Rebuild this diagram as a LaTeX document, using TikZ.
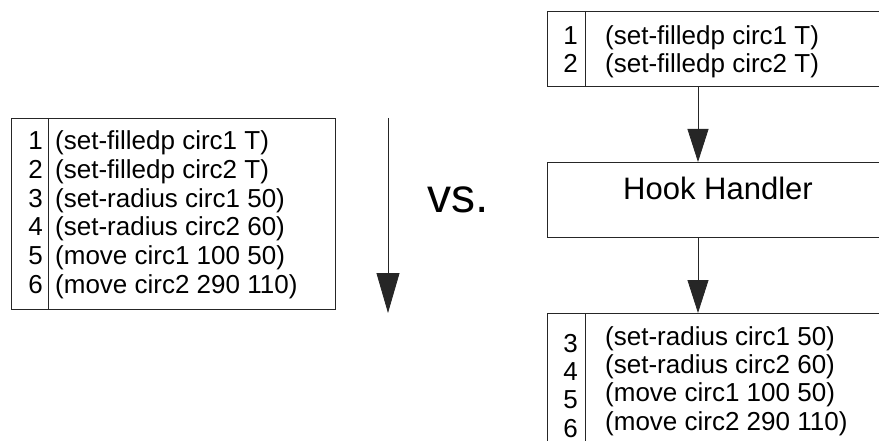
\documentclass[tikz,border=0pt]{standalone}
\usepackage{fontspec}
\setmainfont{Liberation Sans}
\usetikzlibrary{arrows.meta}
\begin{document}
\begin{tikzpicture}[x=1pt,y=-1pt,
  box/.style={draw=black!85, line width=0.8pt, inner sep=0pt, anchor=north west},
  arr/.style={draw=black!85, line width=0.8pt, -{Triangle[width=21pt,length=33pt]}},
  bigarr/.style={draw=black!85, line width=0.8pt, -{Triangle[width=23pt,length=40pt]}},
  num/.style={inner sep=0pt, anchor=base east, font=\fontsize{26pt}{28pt}\selectfont},
  txt/.style={inner sep=0pt, anchor=base west, font=\fontsize{26pt}{28pt}\selectfont}]
\useasboundingbox (0,0) rectangle (879,441);
\clip (0,0) rectangle (879,441);
% left list
\node[box, minimum width=324pt, minimum height=191pt] (L) at (11,118) {};
\draw[draw=black!85, line width=0.8pt] (48,118) -- (48,309);
\foreach \i/\t [count=\k from 0] in {1/(set-filledp circ1 T),2/(set-filledp circ2 T),3/(set-radius circ1 50),4/(set-radius circ2 60),5/(move circ1 100 50),6/(move circ2 290 110)}{
  \node[num] (ln\i) at (43,150+\k*28.6) {\i};
  \node[txt] (lt\i) at (55,150+\k*28.6) {\t};
}
% left arrow
\coordinate (ls) at (388,118);
\coordinate (le) at (388,313);
\draw[bigarr] (ls) -- (le);
% vs
\node[inner sep=0pt, anchor=base west, font=\fontsize{48pt}{50pt}\selectfont] (vs) at (427,213) {vs.};
% right column
\node[box, minimum width=340pt, minimum height=75pt] (T) at (547,11) {};
\draw[draw=black!85, line width=0.8pt] (585,11) -- (585,86);
\node[num] (rn1) at (578,45) {1};
\node[txt] (rt1) at (605,45) {(set-filledp circ1 T)};
\node[num] (rn2) at (578,73) {2};
\node[txt] (rt2) at (605,73) {(set-filledp circ2 T)};
\node[box, minimum width=340pt, minimum height=75pt] (H) at (547,162) {};
\node[inner sep=0pt, anchor=base, font=\fontsize{31pt}{33pt}\selectfont] (HL) at (718,200) {Hook Handler};
\node[box, minimum width=340pt, minimum height=140pt] (B) at (547,313) {};
\draw[draw=black!85, line width=0.8pt] (585,313) -- (585,445);
\foreach \i/\t [count=\k from 0] in {3/(set-radius circ1 50),4/(set-radius circ2 60),5/(move circ1 100 50),6/(move circ2 290 110)}{
  \node[num] (bn\i) at (578,352+\k*28.4) {\i};
  \node[txt] (bt\i) at (605,345+\k*28.4) {\t};
}
\coordinate (ax) at (698,0);
\draw[arr] (T.south -| ax) -- (H.north -| ax);
\draw[arr] (H.south -| ax) -- (B.north -| ax);
\end{tikzpicture}
\end{document}
